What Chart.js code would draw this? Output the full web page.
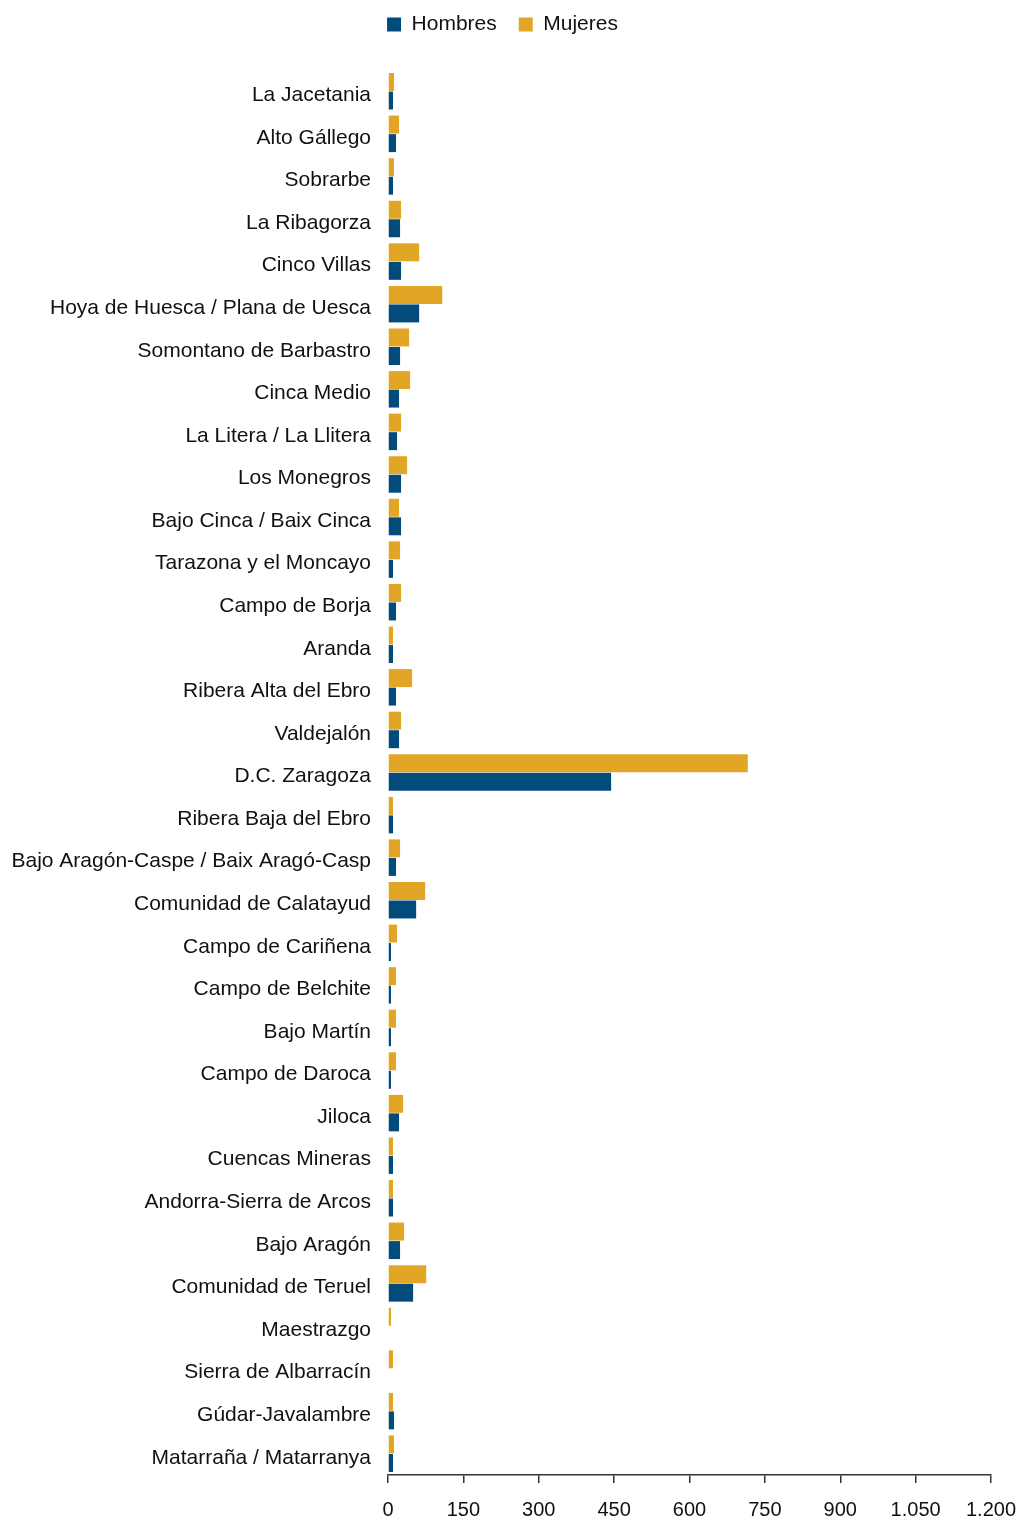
<!DOCTYPE html>
<html>
<head>
<meta charset="utf-8">
<script src="https://cdn.jsdelivr.net/npm/chart.js@4/dist/chart.umd.min.js"></script>
<style>
  html, body { margin: 0; padding: 0; background: #fff; }
  #wrap { width: 1021px; height: 1521px; }
</style>
</head>
<body>
<div id="wrap"><canvas id="barChart" width="1021" height="1521"></canvas></div>
<script>
// Comarcas
const comarcas = [
    'La Jacetania', 'Alto Gállego', 'Sobrarbe', 'La Ribagorza', 'Cinco Villas',
    'Hoya de Huesca / Plana de Uesca', 'Somontano de Barbastro', 'Cinca Medio',
    'La Litera / La Llitera', 'Los Monegros', 'Bajo Cinca / Baix Cinca',
    'Tarazona y el Moncayo', 'Campo de Borja', 'Aranda', 'Ribera Alta del Ebro',
    'Valdejalón', 'D.C. Zaragoza', 'Ribera Baja del Ebro',
    'Bajo Aragón-Caspe / Baix Aragó-Casp', 'Comunidad de Calatayud',
    'Campo de Cariñena', 'Campo de Belchite', 'Bajo Martín', 'Campo de Daroca',
    'Jiloca', 'Cuencas Mineras', 'Andorra-Sierra de Arcos', 'Bajo Aragón',
    'Comunidad de Teruel', 'Maestrazgo', 'Sierra de Albarracín',
    'Gúdar-Javalambre', 'Matarraña / Matarranya'
];

const mujeres = [
    12, 22, 12, 26, 62, 108, 42, 44, 26, 38, 22,
    24, 26, 10, 48, 26, 716, 10, 24, 74,
    18, 16, 16, 16, 30, 10, 10, 32, 76,
    6, 10, 10, 12
];

const hombres = [
    10, 16, 10, 24, 26, 62, 24, 22, 18, 26, 26,
    10, 16, 10, 16, 22, 444, 10, 16, 56,
    6, 6, 6, 6, 22, 10, 10, 24, 50,
    0, 0, 12, 10
];

const xTicks = [0, 150, 300, 450, 600, 750, 900, 1050, 1200];

const AZUL = '#024b7b';
const NARANJA = '#e2a627';

// thousands separator with a dot
function fmt(v) {
    return String(v).replace(/\B(?=(\d{3})+(?!\d))/g, '.');
}

// fixed legend height, and nudge the legend a bit after layout
const legendTweak = {
    id: 'legendTweak',
    beforeInit(chart) {
        const origFit = chart.legend.fit;
        chart.legend.fit = function () {
            origFit.call(this);
            this.height = 70;
        };
    },
    afterLayout(chart) {
        const lg = chart.legend;
        lg.left -= 8; lg.right -= 8;
        lg.top -= 8; lg.bottom -= 8;
    }
};

const ctx = document.getElementById('barChart').getContext('2d');

const barChart = new Chart(ctx, {
    type: 'bar',
    data: {
        labels: comarcas,
        datasets: [
            {
                label: 'Mujeres',
                data: mujeres,
                backgroundColor: NARANJA,
                categoryPercentage: 0.87,
                barPercentage: 0.97
            },
            {
                label: 'Hombres',
                data: hombres,
                backgroundColor: AZUL,
                categoryPercentage: 0.87,
                barPercentage: 0.97
            }
        ]
    },
    plugins: [legendTweak],
    options: {
        indexAxis: 'y',
        responsive: false,
        animation: false,
        layout: { padding: 0 },
        plugins: {
            legend: {
                position: 'top',
                reverse: true,
                labels: {
                    boxWidth: 14,
                    boxHeight: 14,
                    padding: 22,
                    color: '#111',
                    font: { family: 'Liberation Sans, Arial, sans-serif', size: 21 }
                }
            },
            tooltip: { enabled: false }
        },
        scales: {
            x: {
                type: 'linear',
                min: 0,
                max: 1200,
                afterBuildTicks: (scale) => {
                    scale.ticks = xTicks.map(v => ({ value: v }));
                },
                afterFit: (scale) => {
                    scale.height = 46;
                    scale.paddingLeft = 0;
                    scale.paddingRight = 30;
                },
                ticks: {
                    color: '#111',
                    padding: 15,
                    maxRotation: 0,
                    callback: (v) => fmt(v),
                    font: { family: 'Liberation Sans, Arial, sans-serif', size: 20 }
                },
                grid: {
                    drawOnChartArea: false,
                    drawTicks: true,
                    tickLength: 8,
                    color: '#333',
                    lineWidth: 1.5
                },
                border: { display: true, color: '#333', width: 1.5 }
            },
            y: {
                afterFit: (scale) => { scale.width = 388; },
                ticks: {
                    color: '#111',
                    padding: 17,
                    labelOffset: 4,
                    autoSkip: false,
                    font: { family: 'Liberation Sans, Arial, sans-serif', size: 21 }
                },
                grid: { display: false, drawTicks: false },
                border: { display: false }
            }
        }
    }
});
</script>
</body>
</html>
